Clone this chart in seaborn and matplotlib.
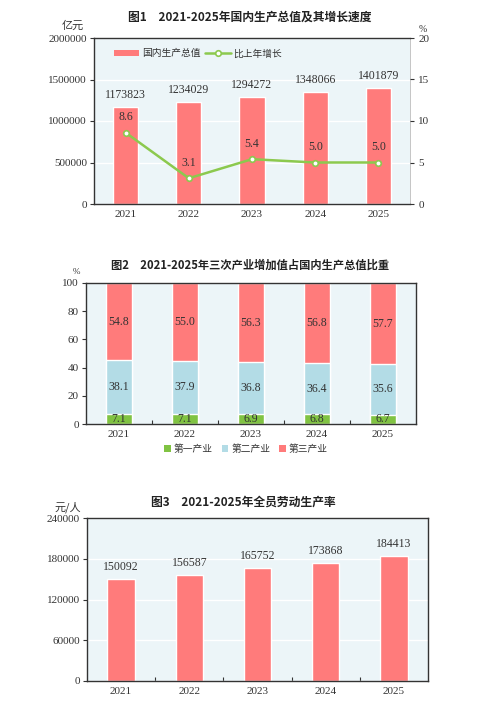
import matplotlib
matplotlib.use("Agg")
import matplotlib.pyplot as plt
from matplotlib.patches import Patch
from matplotlib.lines import Line2D
from matplotlib.ticker import FuncFormatter
import seaborn as sns
import pandas as pd

# data
years = ["2021", "2022", "2023", "2024", "2025"]
gdp = [1173823, 1234029, 1294272, 1348066, 1401879]
gdp_growth = [8.6, 3.1, 5.4, 5.0, 5.0]
primary = [7.1, 7.1, 6.9, 6.8, 6.7]
secondary = [38.1, 37.9, 36.8, 36.4, 35.6]
tertiary = [54.8, 55.0, 56.3, 56.8, 57.7]
productivity = [150092, 156587, 165752, 173868, 184413]

RED = "#FF7B7B"
GREEN_LINE = "#8CC94E"
GREEN_BAR = "#80C342"
BLUE = "#B3DCE6"
BG = "#ECF5F8"
SPINE = "#333333"
TXT = "#333333"

sns.set_theme(style="white")
plt.rcParams["font.family"] = ["Liberation Serif", "Noto Sans CJK SC"]
plt.rcParams["axes.unicode_minus"] = False
CJK = ["Noto Sans CJK SC", "DejaVu Sans"]
SERIF = ["Liberation Serif", "Noto Sans CJK SC"]

fig = plt.figure(figsize=(4.95, 7.22), dpi=100)
W, H = 495, 722
plain = FuncFormatter(lambda v, p: f"{int(v)}")


def px_axes(left, top, right, bottom):
    return fig.add_axes([left / W, 1 - bottom / H, (right - left) / W, (bottom - top) / H])


def style_axes(ax, ticks):
    ax.set_facecolor(BG)
    ax.set_yticks(ticks)
    ax.yaxis.set_major_formatter(plain)
    ax.grid(axis="y", color="white", linewidth=1.0)
    ax.set_axisbelow(True)
    for s in ax.spines.values():
        s.set_color(SPINE)
        s.set_linewidth(1.0)
    ax.tick_params(axis="y", direction="out", length=3, width=0.8, color=SPINE,
                   labelsize=8, labelcolor=TXT, pad=2, left=True)
    ax.tick_params(axis="x", length=0, labelsize=8, labelcolor=TXT, pad=4)
    ax.set_xlabel("")
    ax.set_ylabel("")
    ax.set_xlim(-0.5, 4.5)


# ---- chart 1 ----
ax1 = px_axes(94, 38, 410, 204)
df1 = pd.DataFrame({"year": years, "gdp": gdp, "growth": gdp_growth})
sns.barplot(data=df1, x="year", y="gdp", color=RED, width=0.4, saturation=1, ax=ax1)
ax1.set_ylim(0, 2000000)
style_axes(ax1, [0, 500000, 1000000, 1500000, 2000000])
ax1.spines["right"].set_color("#BBBBBB")
ax1.spines["right"].set_linewidth(0.6)
for i, v in enumerate(gdp):
    ax1.text(i, v + 70000, str(v), ha="center", va="bottom", fontsize=8.5,
             color=TXT, family=SERIF)

ax1b = ax1.twinx()
sns.pointplot(data=df1, x="year", y="growth", color=GREEN_LINE, markers="o",
              markersize=4, linewidth=1.8, ax=ax1b)
for ln in ax1b.lines:
    ln.set_markerfacecolor("white")
    ln.set_markeredgecolor(GREEN_LINE)
    ln.set_markeredgewidth(1.2)
ax1b.set_ylim(0, 20)
ax1b.set_xlim(-0.5, 4.5)
ax1b.set_yticks([0, 5, 10, 15, 20])
ax1b.tick_params(axis="y", direction="out", length=3, width=0.8, color=SPINE,
                 labelsize=8, labelcolor=TXT, pad=3, right=True)
ax1b.set_ylabel("")
ax1b.grid(False)
for s in ax1b.spines.values():
    s.set_visible(False)
for i, v in enumerate(gdp_growth):
    ax1b.text(i, v + 1.1, f"{v:.1f}", ha="center", va="bottom", fontsize=8.5,
              color=TXT, family=SERIF)

handles1 = [Patch(facecolor=RED, edgecolor="none"),
            Line2D([], [], color=GREEN_LINE, linewidth=1.8, marker="o",
                   markersize=4, markerfacecolor="white", markeredgewidth=1.2)]
leg = ax1b.legend(handles1, ["国内生产总值", "比上年增长"], loc="upper left",
                  bbox_to_anchor=(0.035, 0.99), ncol=2, frameon=False,
                  prop={"family": CJK, "size": 7}, handlelength=2.6,
                  handleheight=0.6, columnspacing=0.5, handletextpad=0.3)
for t in leg.get_texts():
    t.set_color(TXT)

fig.text(250 / W, 1 - 17 / H, "图1\u30002021-2025年国内生产总值及其增长速度", ha="center",
         va="center", fontsize=8.5, fontweight="bold", family=CJK, color="#222222")
fig.text(73 / W, 1 - 26 / H, "亿元", ha="center", va="center", fontsize=8,
         family=CJK, color=TXT)
fig.text(423 / W, 1 - 29 / H, "%", ha="center", va="center", fontsize=7,
         family=SERIF, color=TXT)

# ---- chart 2 ----
ax2 = px_axes(86, 283, 416, 424)
df2 = pd.DataFrame({"year": years, "p": primary, "s": secondary, "t": tertiary})
df2["ps"] = df2["p"] + df2["s"]
df2["pst"] = df2["ps"] + df2["t"]
sns.barplot(data=df2, x="year", y="pst", color=RED, width=0.4, saturation=1, ax=ax2)
sns.barplot(data=df2, x="year", y="ps", color=BLUE, width=0.4, saturation=1, ax=ax2)
sns.barplot(data=df2, x="year", y="p", color=GREEN_BAR, width=0.4, saturation=1, ax=ax2)
ax2.set_ylim(0, 100)
style_axes(ax2, [0, 20, 40, 60, 80, 100])
ax2.grid(False)
ax2.set_xticks([0.5, 1.5, 2.5, 3.5], minor=True)
ax2.tick_params(axis="x", which="minor", direction="in", length=3, width=0.8,
                color=SPINE, bottom=True)
for i in range(len(years)):
    ax2.text(i, primary[i] / 2, f"{primary[i]:.1f}", ha="center", va="center",
             fontsize=8.5, color=TXT, family=SERIF)
    ax2.text(i, primary[i] + secondary[i] / 2, f"{secondary[i]:.1f}", ha="center",
             va="center", fontsize=8.5, color=TXT, family=SERIF)
    ax2.text(i, primary[i] + secondary[i] + tertiary[i] / 2, f"{tertiary[i]:.1f}",
             ha="center", va="center", fontsize=8.5, color=TXT, family=SERIF)
handles2 = [Patch(facecolor=c, edgecolor="none") for c in (GREEN_BAR, BLUE, RED)]
leg2 = fig.legend(handles2, ["第一产业", "第二产业", "第三产业"], loc="center",
                  bbox_to_anchor=(246 / W, 1 - 449 / H), ncol=3, frameon=False,
                  prop={"family": CJK, "size": 7}, handlelength=0.7,
                  handleheight=0.7, columnspacing=0.9, handletextpad=0.3)
for t in leg2.get_texts():
    t.set_color(TXT)
fig.text(250 / W, 1 - 265 / H, "图2\u30002021-2025年三次产业增加值占国内生产总值比重",
         ha="center", va="center", fontsize=8.1, fontweight="bold", family=CJK,
         color="#222222")
fig.text(76 / W, 1 - 272 / H, "%", ha="center", va="center", fontsize=6.5,
         family=SERIF, color=TXT)

# ---- chart 3 ----
ax3 = px_axes(87, 518, 428, 681)
df3 = pd.DataFrame({"year": years, "v": productivity})
sns.barplot(data=df3, x="year", y="v", color=RED, width=0.4, saturation=1, ax=ax3)
ax3.set_ylim(0, 240000)
style_axes(ax3, [0, 60000, 120000, 180000, 240000])
ax3.set_xticks([0.5, 1.5, 2.5, 3.5], minor=True)
ax3.tick_params(axis="x", which="minor", direction="in", length=3, width=0.8,
                color=SPINE, bottom=True)
for i, v in enumerate(productivity):
    ax3.text(i, v + 9000, str(v), ha="center", va="bottom", fontsize=8.5,
             color=TXT, family=SERIF)
fig.text(243 / W, 1 - 502 / H, "图3\u30002021-2025年全员劳动生产率", ha="center",
         va="center", fontsize=8.5, fontweight="bold", family=CJK, color="#222222")
fig.text(68 / W, 1 - 507 / H, "元/人", ha="center", va="center", fontsize=8,
         family=CJK, color=TXT)

fig.savefig("out.png", dpi=100, facecolor="white")
